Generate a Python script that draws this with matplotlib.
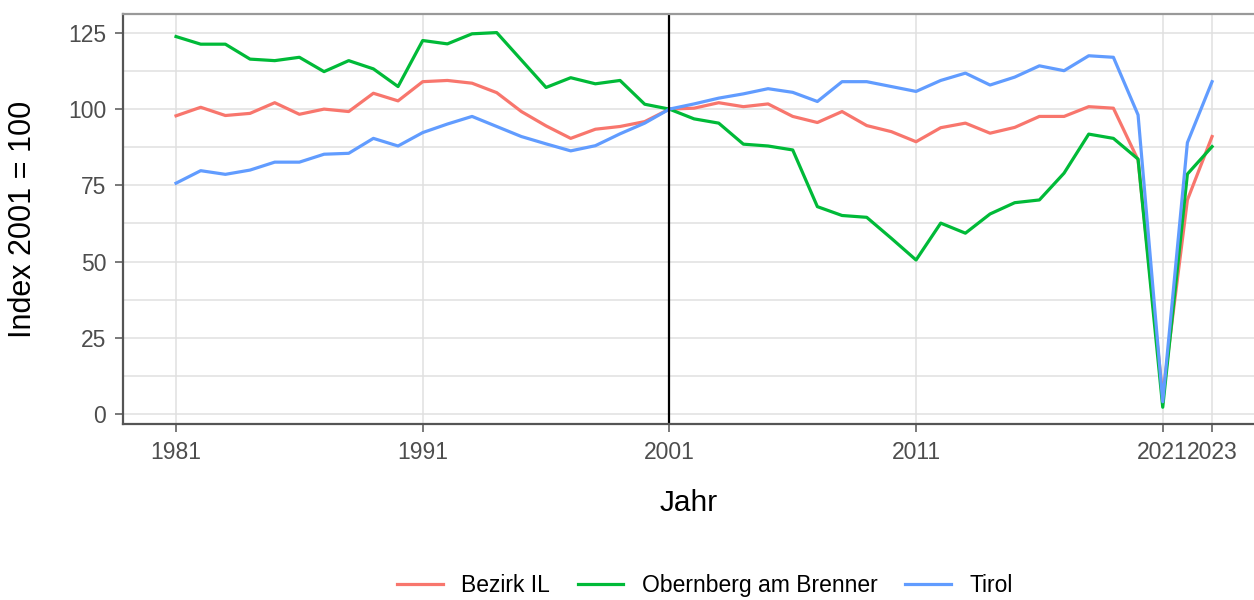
import matplotlib
matplotlib.use("Agg")
import matplotlib.pyplot as plt
from matplotlib.ticker import MultipleLocator

plt.rcParams['font.family'] = ['Liberation Sans', 'DejaVu Sans']

years = list(range(1981, 2024))

bezirk_il = [97.8, 100.6, 97.9, 98.6, 102.1, 98.3, 100.0, 99.2, 105.2, 102.7,
             109.0, 109.4, 108.5, 105.4, 99.2, 94.5, 90.4, 93.4, 94.3, 95.9,
             100.0, 100.3, 102.1, 100.8, 101.7, 97.6, 95.6, 99.2, 94.6, 92.6,
             89.3, 93.9, 95.4, 92.1, 94.0, 97.6, 97.6, 100.8, 100.3, 83.3,
             6.0, 70.2, 91.0]

obernberg = [123.8, 121.3, 121.3, 116.4, 115.9, 117.0, 112.3, 115.9, 113.2, 107.4,
             122.5, 121.4, 124.7, 125.1, 116.1, 107.1, 110.3, 108.3, 109.4, 101.6,
             100.0, 96.8, 95.4, 88.5, 87.9, 86.6, 68.0, 65.1, 64.5, 57.6,
             50.5, 62.6, 59.3, 65.6, 69.3, 70.2, 79.0, 91.8, 90.4, 83.6,
             2.2, 78.7, 87.7]

tirol = [75.7, 79.8, 78.6, 80.0, 82.6, 82.6, 85.2, 85.5, 90.4, 87.9,
         92.3, 95.1, 97.6, 94.3, 91.0, 88.6, 86.3, 88.0, 91.9, 95.4,
         100.0, 101.7, 103.6, 105.0, 106.7, 105.5, 102.5, 109.0, 109.0, 107.4,
         105.8, 109.4, 111.8, 107.9, 110.5, 114.2, 112.6, 117.5, 117.0, 98.1,
         4.0, 89.0, 109.0]

series = [("Bezirk IL", bezirk_il, "#F8766D"),
          ("Obernberg am Brenner", obernberg, "#00BA38"),
          ("Tirol", tirol, "#619CFF")]

x_ticks = [1981, 1991, 2001, 2011, 2021, 2023]
y_ticks = [0, 25, 50, 75, 100, 125]

fig = plt.figure(figsize=(12.54, 6), dpi=100)
ax = fig.add_axes([123 / 1254, 176 / 600, (1254 - 123) / 1254, (424 - 14) / 600])

ax.set_xlim(1978.85, 2024.7)
ax.set_ylim(-3.3, 131.2)

ax.set_yticks(y_ticks)
ax.yaxis.set_minor_locator(MultipleLocator(12.5))
ax.set_xticks(x_ticks)
ax.set_xticklabels([str(t) for t in x_ticks])

ax.grid(True, which='major', color='#E0E0E0', lw=1.1)
ax.grid(True, which='minor', axis='y', color='#E0E0E0', lw=1.1)
ax.set_axisbelow(True)

for name, vals, col in series:
    ax.plot(years, vals, color=col, lw=2.3, label=name, solid_joinstyle='round')

ax.axvline(2001, color='black', lw=1.6)

for s in ['left', 'bottom']:
    ax.spines[s].set_color('#555555')
    ax.spines[s].set_linewidth(1.6)
ax.spines['top'].set_color('#999999')
ax.spines['top'].set_linewidth(1.6)
ax.spines['right'].set_visible(False)

ax.tick_params(axis='both', which='major', length=6, width=1.1, color='#555555',
               labelsize=16.5, labelcolor='#4D4D4D', pad=6)
ax.tick_params(axis='y', which='minor', length=0)

ax.set_xlabel("Jahr", fontsize=21.5, labelpad=18)
ax.set_ylabel("Index 2001 = 100", fontsize=22, labelpad=22)

fig.legend(loc='lower center', bbox_to_anchor=(0.562, -0.03), ncol=3, frameon=False,
           fontsize=16.5, handlelength=2.0, columnspacing=1.2, handletextpad=0.8)

fig.savefig("out.png", dpi=100)
